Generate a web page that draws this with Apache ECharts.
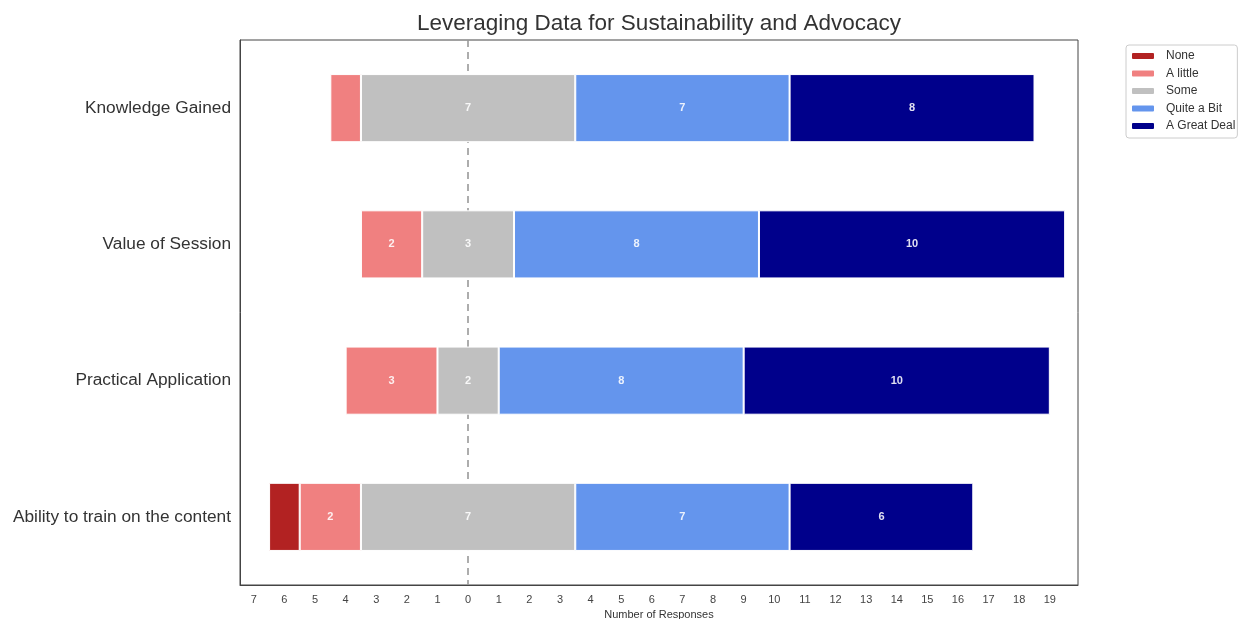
<!DOCTYPE html>
<html>
<head>
<meta charset="utf-8">
<script src="https://cdn.jsdelivr.net/npm/echarts@6/dist/echarts.min.js"></script>
<style>html,body{margin:0;padding:0;background:#fff}#c{width:1239px;height:619px}</style>
</head>
<body>
<div id="c"></div>
<script>
const categories = ['Knowledge Gained', 'Value of Session', 'Practical Application', 'Ability to train on the content'];
const none = [0, 0, 0, 1];
const aLittle = [1, 2, 3, 2];
const some = [7, 3, 2, 7];
const quiteABit = [7, 8, 8, 7];
const aGreatDeal = [8, 10, 10, 6];
const tickLabels = [-7,-6,-5,-4,-3,-2,-1,0,1,2,3,4,5,6,7,8,9,10,11,12,13,14,15,16,17,18,19];

const base = categories.map((c, i) => -(none[i] + aLittle[i] + some[i] / 2));
const font = '"Liberation Sans", Arial, sans-serif';

function bar(name, data, color) {
  return {
    name, type: 'bar', stack: 'total', stackStrategy: 'all', data, barWidth: '50%', z: 3,
    itemStyle: { color, borderColor: '#fff', borderWidth: 1 },
    label: {
      show: true, position: 'inside', color: 'rgba(255,255,255,0.88)', fontWeight: 'bold', fontSize: 11, fontFamily: font,
      formatter: p => (p.value > 1 ? String(p.value) : '')
    }
  };
}

const chart = echarts.init(document.getElementById('c'));
chart.setOption({
  animation: false,
  title: { text: 'Leveraging Data for Sustainability and Advocacy', left: 654, textAlign: 'center', top: 7,
    textStyle: { fontSize: 22.5, fontWeight: 'normal', color: '#333', fontFamily: font } },
  legend: {
    data: ['None', 'A little', 'Some', 'Quite a Bit', 'A Great Deal'],
    orient: 'vertical', left: 1126, top: 45, itemWidth: 24, itemHeight: 8, itemGap: 5.5,
    borderColor: '#ccc', borderWidth: 1, borderRadius: 3, padding: [5, 2, 6, 4],
    textStyle: { fontSize: 12, color: '#333', fontFamily: font, padding: [0, 0, 0, 6] }
  },
  grid: { left: 240, right: 161, top: 40, bottom: 34, show: true, borderColor: '#444', borderWidth: 1, outerBoundsMode: 'none', containLabel: false },
  xAxis: {
    type: 'value', min: -7.45, max: 19.92,
    name: 'Number of Responses', nameLocation: 'middle', nameGap: 20,
    nameTextStyle: { fontSize: 11, color: '#333', fontFamily: font },
    axisLine: { show: true, onZero: false, lineStyle: { color: '#444' } },
    axisTick: { show: false },
    splitLine: { show: false },
    axisLabel: { customValues: tickLabels, formatter: v => String(Math.abs(v)), fontSize: 11, color: '#444', margin: 9, fontFamily: font }
  },
  yAxis: {
    type: 'category', data: categories, inverse: true,
    axisLine: { show: true, onZero: false, lineStyle: { color: '#444' } },
    axisTick: { show: false },
    axisLabel: { fontSize: 17.3, color: '#333', margin: 9, fontFamily: font }
  },
  series: [
    {
      name: 'base', type: 'bar', stack: 'total', stackStrategy: 'all', data: base, barWidth: '50%', z: 1,
      itemStyle: { color: 'transparent' }, silent: true,
      markLine: { symbol: 'none', silent: true, z: 1, label: { show: false },
        lineStyle: { color: '#999', type: [7, 5], width: 1.6 }, data: [{ xAxis: 0 }] }
    },
    bar('None', none, '#b22222'),
    bar('A little', aLittle, '#f08080'),
    bar('Some', some, '#c0c0c0'),
    bar('Quite a Bit', quiteABit, '#6495ed'),
    bar('A Great Deal', aGreatDeal, '#00008b')
  ]
});
</script>
</body>
</html>
